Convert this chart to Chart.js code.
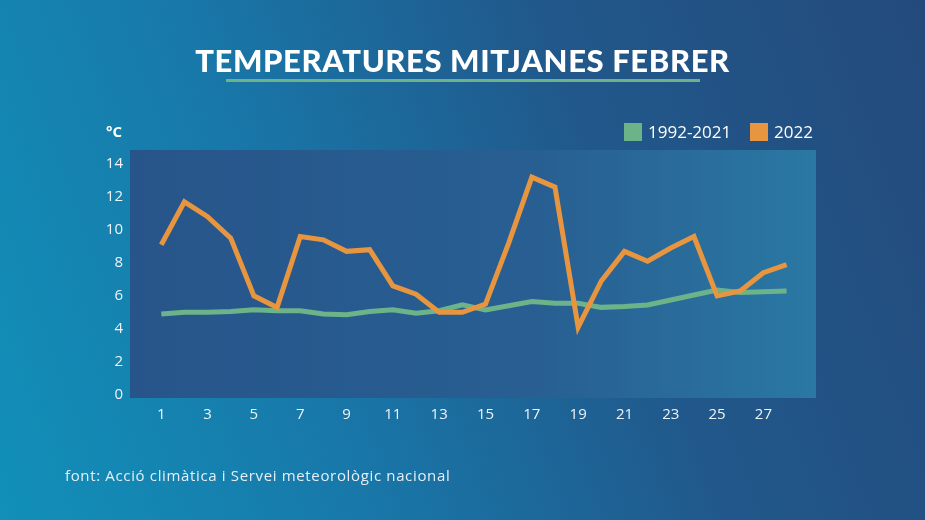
<!DOCTYPE html>
<html>
<head>
<meta charset="utf-8">
<script src="https://cdn.jsdelivr.net/npm/chart.js@4.4.1/dist/chart.umd.min.js"></script>
<style>
  html, body { margin: 0; padding: 0; }
  body {
    width: 925px; height: 520px; overflow: hidden; position: relative;
    background: linear-gradient(70deg, #1190b9 0%, #1878a9 33%, #21588b 65%, #244a7c 100%);
    font-family: "Open Sans", sans-serif; color: #fff;
  }
  #grafica { position: absolute; left: 0; top: 0; }
  .titol {
    position: absolute; left: 0; width: 925px; top: 41px; text-align: center;
    font-family: Lato, sans-serif; font-weight: 900; font-size: 31px; letter-spacing: 0.6px;
  }
  .ratlla { position: absolute; left: 226px; width: 474px; top: 79px; height: 3px; background: #6cb38a; }
  .unitat { position: absolute; left: 106px; top: 121px; font-weight: 700; font-size: 15px; }
  .llegenda { position: absolute; top: 120px; font-size: 17px; display: flex; align-items: center; }
  .llegenda span.q { display: inline-block; width: 18px; height: 18px; margin-right: 6px; }
  .font { position: absolute; left: 65px; top: 465px; font-size: 15px; letter-spacing: 0.65px; color: #e6eef6; }
</style>
</head>
<body>
<canvas id="grafica" width="925" height="520"></canvas>
<div class="titol">TEMPERATURES MITJANES FEBRER</div>
<div class="ratlla"></div>
<div class="unitat">°C</div>
<div class="llegenda" style="left:624px"><span class="q" style="background:#6cb38a"></span>1992-2021</div>
<div class="llegenda" style="left:750px"><span class="q" style="background:#e8953f"></span>2022</div>
<div class="font">font: Acció climàtica i Servei meteorològic nacional</div>
<script>
const dies = [1,2,3,4,5,6,7,8,9,10,11,12,13,14,15,16,17,18,19,20,21,22,23,24,25,26,27,28];
const mitjana = [4.9,5.0,5.0,5.05,5.15,5.1,5.1,4.9,4.85,5.05,5.15,4.95,5.1,5.45,5.15,5.4,5.65,5.55,5.55,5.3,5.35,5.45,5.75,6.05,6.35,6.2,6.25,6.3];
const any2022 = [9.1,11.7,10.8,9.5,6.0,5.3,9.6,9.4,8.7,8.8,6.6,6.1,5.0,5.0,5.5,9.2,13.2,12.6,4.1,6.9,8.7,8.1,8.9,9.6,6.0,6.3,7.4,7.9];
const etiquetesX = [1,3,5,7,9,11,13,15,17,19,21,23,25,27];
const etiquetesY = [0,2,4,6,8,10,12,14];

const fonsGrafic = {
  id: 'fonsGrafic',
  beforeDraw(chart) {
    const { ctx, chartArea: a } = chart;
    const g = ctx.createLinearGradient(a.left, 0, a.right, 0);
    g.addColorStop(0, '#27558a');
    g.addColorStop(0.6, '#285f92');
    g.addColorStop(1, '#2a78a3');
    ctx.save();
    ctx.fillStyle = g;
    ctx.fillRect(a.left, a.top, a.right - a.left, a.bottom - a.top);
    ctx.restore();
  }
};

const ctx = document.getElementById('grafica').getContext('2d');
new Chart(ctx, {
  type: 'line',
  data: {
    datasets: [
      {
        label: '2022',
        data: dies.map((d, i) => ({ x: d, y: any2022[i] })),
        borderColor: '#e8953f',
        borderWidth: 5,
        pointRadius: 0,
        tension: 0
      },
      {
        label: '1992-2021',
        data: dies.map((d, i) => ({ x: d, y: mitjana[i] })),
        borderColor: '#6cb38a',
        borderWidth: 5,
        pointRadius: 0,
        tension: 0
      }
    ]
  },
  options: {
    responsive: false,
    animation: false,
    layout: { padding: { left: 90, right: 109, top: 150, bottom: 82 } },
    plugins: { legend: { display: false }, tooltip: { enabled: false } },
    scales: {
      x: {
        type: 'linear',
        min: -0.35,
        max: 29.27,
        afterBuildTicks: s => { s.ticks = etiquetesX.map(v => ({ value: v })); },
        afterFit: s => { s.height = 40; },
        grid: { display: false, drawTicks: false },
        border: { display: false },
        ticks: { color: '#eef3f8', font: { family: 'Open Sans', size: 15 }, padding: 8, maxRotation: 0, autoSkip: false }
      },
      y: {
        min: -0.2,
        max: 14.85,
        afterBuildTicks: s => { s.ticks = etiquetesY.map(v => ({ value: v })); },
        afterFit: s => { s.width = 40; },
        grid: { display: false, drawTicks: false },
        border: { display: false },
        ticks: { color: '#eef3f8', font: { family: 'Open Sans', size: 15 }, padding: 7 }
      }
    }
  },
  plugins: [fonsGrafic]
});
</script>
</body>
</html>
